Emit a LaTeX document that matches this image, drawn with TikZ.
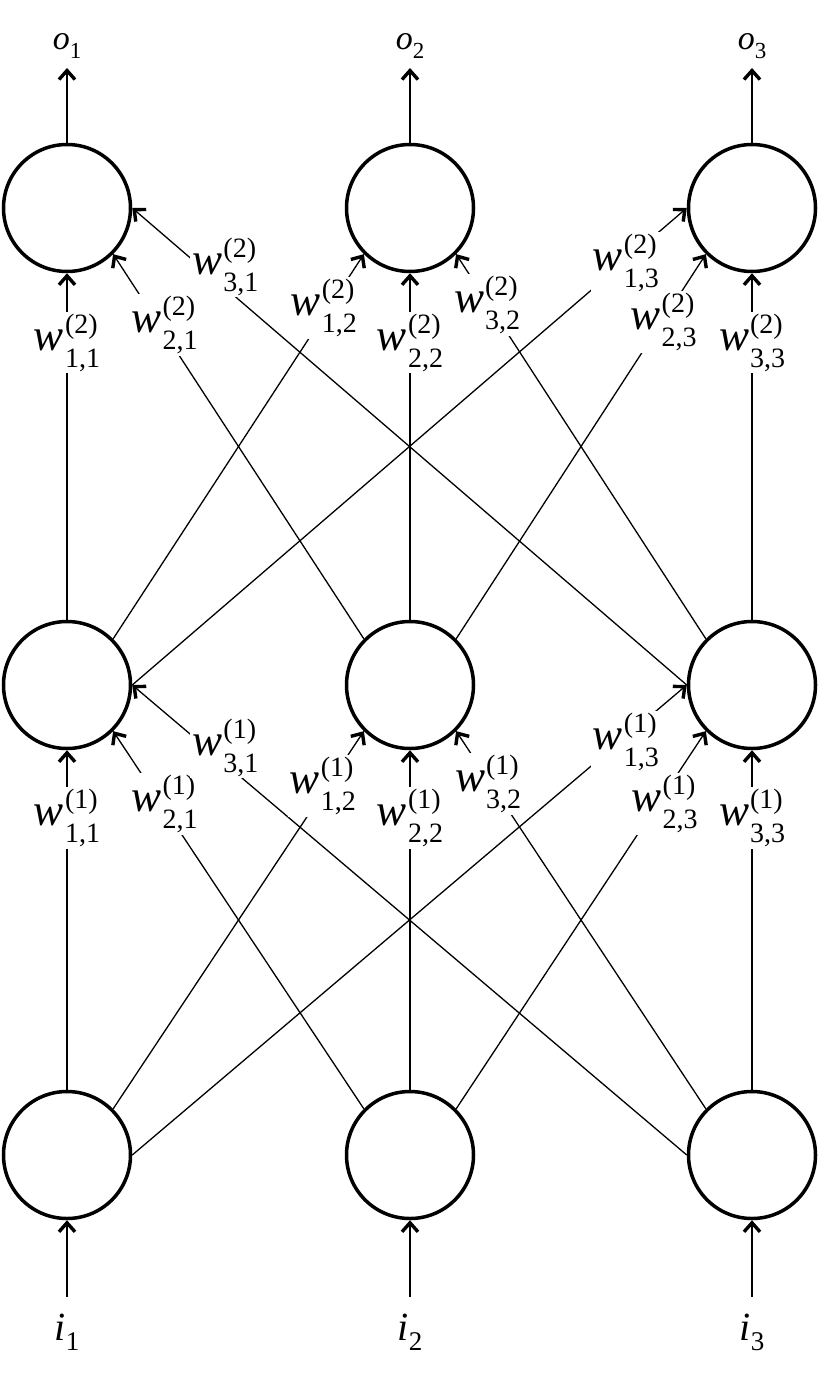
\documentclass[tikz,border=0pt]{standalone}
\usepackage{fontspec}
\setmainfont{Liberation Serif}
\usetikzlibrary{arrows.meta}
\newcommand{\wlab}[2]{\fontsize{45}{45}\selectfont\textit{w}\kern1pt\makebox[0pt][l]{\raisebox{17pt}{\fontsize{28}{28}\selectfont(#1)}}\raisebox{-17pt}{\fontsize{28}{28}\selectfont #2}}
\newcommand{\olab}[1]{\fontsize{34}{34}\selectfont\textit{o}\raisebox{-9pt}{\fontsize{23}{23}\selectfont #1}}
\newcommand{\ilab}[1]{\fontsize{40}{40}\selectfont\textit{i}\raisebox{-10pt}{\fontsize{27}{27}\selectfont #1}}
\begin{document}
\begin{tikzpicture}[x=1pt,y=1pt,
  neuron/.style={circle, draw, line width=3.5pt, minimum size=127pt, inner sep=0pt},
  arr/.style={line width=1.3pt, -{Straight Barb[length=9pt,width=16pt,line width=3.4pt]}},
  wl/.style={fill=white, inner sep=2pt},
  io/.style={anchor=base, inner sep=0pt}]
\useasboundingbox[fill=white] (0,0) rectangle (820,-1380);
% neurons
\node[neuron] (h1) at (67,-208) {};
\node[neuron] (h2) at (410,-208) {};
\node[neuron] (h3) at (752,-208) {};
\node[neuron] (m1) at (67,-685) {};
\node[neuron] (m2) at (410,-685) {};
\node[neuron] (m3) at (752,-685) {};
\node[neuron] (b1) at (67,-1155) {};
\node[neuron] (b2) at (410,-1155) {};
\node[neuron] (b3) at (752,-1155) {};
% outputs
\node[io] (o1) at (67,-50) {\olab{1}};
\node[io] (o2) at (410,-50) {\olab{2}};
\node[io] (o3) at (752,-50) {\olab{3}};
\coordinate (t1) at (67,-68);
\coordinate (t2) at (410,-68);
\coordinate (t3) at (752,-68);
\draw[arr] (h1.north) -- (t1);
\draw[arr] (h2.north) -- (t2);
\draw[arr] (h3.north) -- (t3);
% inputs
\node[io] (i1) at (67,-1340) {\ilab{1}};
\node[io] (i2) at (410,-1340) {\ilab{2}};
\node[io] (i3) at (752,-1340) {\ilab{3}};
\coordinate (s1) at (67,-1297);
\coordinate (s2) at (410,-1297);
\coordinate (s3) at (752,-1297);
\draw[arr] (s1) -- (b1.south);
\draw[arr] (s2) -- (b2.south);
\draw[arr] (s3) -- (b3.south);
% layer 1 edges
\draw[arr] (b1.north) -- (m1.south);
\draw[arr] (b2.north west) -- (m1.south east);
\draw[arr] (b3.west) -- (m1.east);
\draw[arr] (b1.north east) -- (m2.south west);
\draw[arr] (b2.north) -- (m2.south);
\draw[arr] (b3.north west) -- (m2.south east);
\draw[arr] (b1.east) -- (m3.west);
\draw[arr] (b2.north east) -- (m3.south west);
\draw[arr] (b3.north) -- (m3.south);
% layer 2 edges
\draw[arr] (m1.north) -- (h1.south);
\draw[arr] (m2.north west) -- (h1.south east);
\draw[arr] (m3.west) -- (h1.east);
\draw[arr] (m1.north east) -- (h2.south west);
\draw[arr] (m2.north) -- (h2.south);
\draw[arr] (m3.north west) -- (h2.south east);
\draw[arr] (m1.east) -- (h3.west);
\draw[arr] (m2.north east) -- (h3.south west);
\draw[arr] (m3.north) -- (h3.south);
% layer 1 labels
\path (b1.north) -- (m1.south) node[wl,pos=0.8] {\wlab{1}{1,1}};
\path (b2.north west) -- (m1.south east) node[wl,pos=0.815,xshift=5pt,yshift=-3pt] {\wlab{1}{2,1}};
\path (b3.west) -- (m1.east) node[wl,pos=0.85,xshift=10pt,yshift=8pt] {\wlab{1}{3,1}};
\path (b1.north east) -- (m2.south west) node[wl,pos=0.86,xshift=-6pt,yshift=-2pt] {\wlab{1}{1,2}};
\path (b2.north) -- (m2.south) node[wl,pos=0.8] {\wlab{1}{2,2}};
\path (b3.north west) -- (m2.south east) node[wl,pos=0.86,xshift=-3pt] {\wlab{1}{3,2}};
\path (b1.east) -- (m3.west) node[wl,pos=0.885,xshift=3pt,yshift=-3pt] {\wlab{1}{1,3}};
\path (b2.north east) -- (m3.south west) node[wl,pos=0.815,xshift=5pt,yshift=-3pt] {\wlab{1}{2,3}};
\path (b3.north) -- (m3.south) node[wl,pos=0.8] {\wlab{1}{3,3}};
% layer 2 labels
\path (m1.north) -- (h1.south) node[wl,pos=0.8] {\wlab{2}{1,1}};
\path (m2.north west) -- (h1.south east) node[wl,pos=0.815,xshift=5pt,yshift=0pt] {\wlab{2}{2,1}};
\path (m3.west) -- (h1.east) node[wl,pos=0.85,xshift=10pt,yshift=13pt] {\wlab{2}{3,1}};
\path (m1.north east) -- (h2.south west) node[wl,pos=0.86,xshift=-5pt] {\wlab{2}{1,2}};
\path (m2.north) -- (h2.south) node[wl,pos=0.8] {\wlab{2}{2,2}};
\path (m3.north west) -- (h2.south east) node[wl,pos=0.86,xshift=-4pt,yshift=3pt] {\wlab{2}{3,2}};
\path (m1.east) -- (h3.west) node[wl,pos=0.885,xshift=3pt] {\wlab{2}{1,3}};
\path (m2.north east) -- (h3.south west) node[wl,pos=0.815,xshift=4pt,yshift=3pt] {\wlab{2}{2,3}};
\path (m3.north) -- (h3.south) node[wl,pos=0.8] {\wlab{2}{3,3}};
\end{tikzpicture}
\end{document}
